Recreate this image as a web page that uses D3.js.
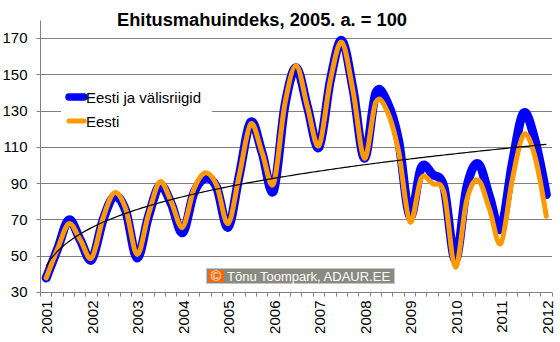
<!DOCTYPE html>
<html><head><meta charset="utf-8">
<script src="https://cdn.jsdelivr.net/npm/d3@7"></script>
<style>
body{margin:0;background:#fff}
svg{display:block}
text{font-family:"Liberation Sans",Arial,sans-serif}
</style>
</head><body>
<svg id="chart" width="560" height="342"></svg>
<script>
// ---- data (quarterly, 2001 Q1 ... 2012 Q1) ----
const years = ["2001","2002","2003","2004","2005","2006","2007","2008","2009","2010","2011","2012"];
const quarterNames = ["I","II","III","IV"];
const categories = [];
years.forEach((yr, k) => quarterNames.forEach((q, j) => { if (k < years.length - 1 || j === 0) categories.push(yr + " " + q); }));

const seriesNames = ["Eesti ja välisriigid", "Eesti"];
const totalValues = [38,54,70,59, 48,70,83,75, 49,72,89,79, 63,85,93,88, 66,95,124,107,
  86,133,154,132, 110,147,169,142, 104,140,135,114, 72,99,95,88, 48,88,101,83, 65,101,129,114, 84];
const estoniaValues = [38,54,68,59, 49,71,85,76, 51,73,91,80, 66,87,96,89, 68,95,123,107,
  90,134,155,132, 111,147,168,141, 104,135,130,108, 69,93,90,85, 44,81,92,76, 57,92,117,105, 72];
const yTicks = [30,50,70,90,110,130,150,170];
const titleText = "Ehitusmahuindeks, 2005. a. = 100";
const creditText = "Tõnu Toompark, ADAUR.EE";

(function draw(){
// ---- layout ----
const svg = d3.select("#chart");
const pL = 40.5, pR = 552, pT = 20.5, pB = 292.5;
const x = d3.scaleLinear().domain([-0.5, categories.length - 0.5]).range([pL, pR]);
const y = d3.scaleLinear().domain([30, 180]).range([pB, pT]);
const crisp = v => Math.floor(v) + 0.5;

// gridlines
svg.append("g").selectAll("line").data(yTicks).join("line")
  .attr("x1", pL - 4).attr("x2", pR)
  .attr("y1", d => crisp(y(d))).attr("y2", d => crisp(y(d)))
  .attr("stroke", "#808080").attr("stroke-width", 1);

// y axis
const yAxis = svg.append("g").attr("transform", `translate(${pL},0)`)
  .call(d3.axisLeft(y).tickValues(yTicks).tickSize(0).tickPadding(13).offset(0));
yAxis.select(".domain").attr("stroke", "#808080");
yAxis.selectAll("text").attr("font-size", 15).attr("fill", "#000")
  .attr("font-family", '"Liberation Sans",Arial,sans-serif');

// x axis: quarter boundary ticks
const xAxis = svg.append("g").attr("transform", `translate(0,${pB})`)
  .call(d3.axisBottom(x).tickValues(d3.range(-0.5, categories.length, 1)).tickSize(4).tickSizeOuter(0).tickFormat("").offset(0));
xAxis.selectAll("line").attr("stroke", "#808080");
xAxis.selectAll(".tick").attr("transform", d => `translate(${crisp(x(d))},0)`);
xAxis.select(".domain").attr("stroke", "#808080");

// x axis labels: one per year (first quarter)
const yearIdx = years.map((yr, k) => k * 4);
const xLab = svg.append("g").attr("transform", `translate(0,${pB})`)
  .call(d3.axisBottom(x).tickValues(yearIdx).tickSize(0).tickFormat(i => years[i / 4]).offset(0));
xLab.select(".domain").remove();
xLab.selectAll("text")
  .attr("transform", "rotate(-90)")
  .attr("x", -8).attr("y", 1).attr("dy", "0.35em")
  .attr("text-anchor", "end")
  .attr("font-size", 15).attr("fill", "#000")
  .attr("font-family", '"Liberation Sans",Arial,sans-serif');

// series lines
const line = d3.line().x((d, i) => x(i)).y(d => y(d)).curve(d3.curveCardinal.tension(0));
svg.append("path").datum(totalValues).attr("d", line)
  .attr("fill", "none").attr("stroke", "#0000ff").attr("stroke-width", 9)
  .attr("stroke-linejoin", "round").attr("stroke-linecap", "round");
svg.append("path").datum(estoniaValues).attr("d", line)
  .attr("fill", "none").attr("stroke", "#ff9900").attr("stroke-width", 5)
  .attr("stroke-linejoin", "round").attr("stroke-linecap", "round");

// power trendline fitted to the first series (as the spreadsheet trendline)
const lx = totalValues.map((v, i) => Math.log(i + 1));
const ly = totalValues.map(v => Math.log(v));
const mx = d3.mean(lx), my = d3.mean(ly);
const b = d3.sum(lx.map((v, i) => (v - mx) * (ly[i] - my))) / d3.sum(lx.map(v => (v - mx) * (v - mx)));
const a = Math.exp(my - b * mx);
const trendIdx = d3.range(0, categories.length - 1 + 0.001, 0.25);
svg.append("path").datum(trendIdx)
  .attr("d", d3.line().x(t => x(t)).y(t => y(a * Math.pow(t + 1, b))))
  .attr("fill", "none").attr("stroke", "#000").attr("stroke-width", 1.2);

// legend
const lg = svg.append("g");
lg.append("rect").attr("x", 61).attr("y", 85).attr("width", 151).attr("height", 46).attr("fill", "#fff");
const legendItems = [
  {name: seriesNames[0], color: "#0000ff", w: 7.5, yy: 97},
  {name: seriesNames[1], color: "#ff9900", w: 5, yy: 121}
];
legendItems.forEach(it => {
  lg.append("line").attr("x1", 69).attr("x2", 84).attr("y1", it.yy).attr("y2", it.yy)
    .attr("stroke", it.color).attr("stroke-width", it.w).attr("stroke-linecap", "round");
  lg.append("text").attr("x", 86).attr("y", it.yy + 5.5).attr("font-size", 15).attr("fill", "#000").text(it.name);
});

// title
svg.append("text").attr("x", 262).attr("y", 26).attr("text-anchor", "middle")
  .attr("font-size", 18.3).attr("font-weight", "bold").attr("fill", "#000").text(titleText);

// credit box
const cb = svg.append("g");
cb.append("rect").attr("x", 206.5).attr("y", 268.5).attr("width", 188).attr("height", 15)
  .attr("fill", "#8a8a82").attr("stroke", "#c4c4c0");
cb.append("rect").attr("x", 208).attr("y", 270).attr("width", 16).attr("height", 12).attr("fill", "#ff6600");
cb.append("text").attr("x", 216).attr("y", 281).attr("text-anchor", "middle")
  .attr("font-size", 14).attr("fill", "#fff").attr("font-family", '"DejaVu Sans",sans-serif').text("©");
cb.append("text").attr("x", 227).attr("y", 281)
  .attr("font-size", 13).attr("fill", "#fff").attr("font-family", '"DejaVu Sans",sans-serif').text(creditText);
})();
</script>
</body></html>
